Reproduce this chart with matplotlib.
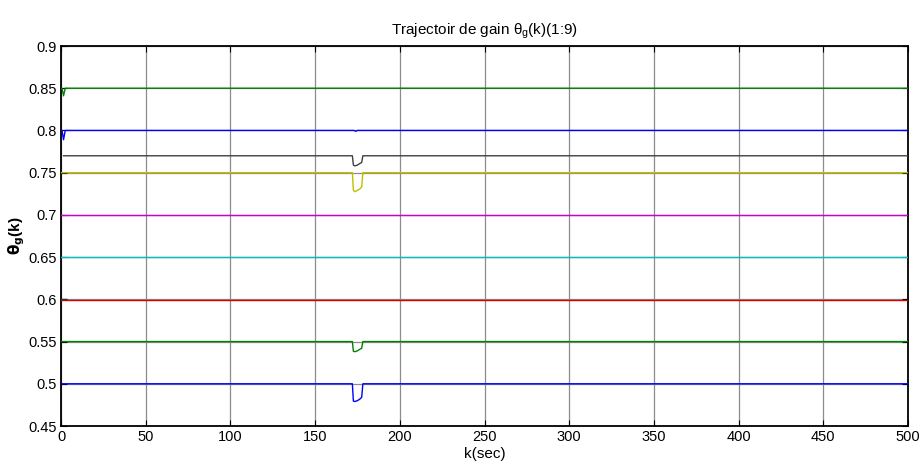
import matplotlib
matplotlib.use("Agg")
import matplotlib.pyplot as plt
from matplotlib import font_manager

# Narrow Arial-like face if available
names = {f.name for f in font_manager.fontManager.ttflist}
family = [n for n in ["Liberation Sans Narrow", "Liberation Sans", "DejaVu Sans"] if n in names]
plt.rcParams["font.family"] = family
plt.rcParams["mathtext.fontset"] = "custom"
plt.rcParams["mathtext.rm"] = family[0]
plt.rcParams["mathtext.it"] = family[0]

# Gain trajectories: knot times and values for each of the 9 components
k_dip = [0, 172, 172.6, 173.5, 175, 176.5, 177.5, 178.2, 500]

theta1_k = [0, 0.6, 1.5, 2.5, 500]
theta1 = [0.850, 0.850, 0.841, 0.850, 0.850]
theta2_k = [0, 0.6, 1.5, 2.5, 173, 174, 175, 500]
theta2 = [0.800, 0.800, 0.789, 0.800, 0.800, 0.799, 0.800, 0.800]
theta3_k = [1.5] + k_dip[1:]
theta3 = [0.770, 0.770, 0.759, 0.758, 0.759, 0.761, 0.762, 0.770, 0.770]
theta4_k = k_dip
theta4 = [0.750, 0.750, 0.729, 0.7275, 0.729, 0.731, 0.733, 0.750, 0.750]
theta5_k = [0, 500]
theta5 = [0.700, 0.700]
theta6_k = [0, 500]
theta6 = [0.650, 0.650]
theta7_k = [0, 500]
theta7 = [0.5995, 0.5995]
theta8_k = k_dip
theta8 = [0.550, 0.550, 0.5385, 0.538, 0.539, 0.541, 0.542, 0.550, 0.550]
theta9_k = k_dip
theta9 = [0.500, 0.500, 0.4795, 0.479, 0.480, 0.482, 0.484, 0.500, 0.500]
offset_k = [0, 3]
offset = [0.6008, 0.6008]

x_ticks = [0, 50, 100, 150, 200, 250, 300, 350, 400, 450, 500]
y_ticks = [0.45, 0.5, 0.55, 0.6, 0.65, 0.7, 0.75, 0.8, 0.85, 0.9]
y_ticklabels = ["0.45", "0.5", "0.55", "0.6", "0.65", "0.7", "0.75", "0.8", "0.85", "0.9"]

series = [
    (theta1_k, theta1, (0.0, 0.5, 0.0)),
    (theta2_k, theta2, (0.0, 0.0, 1.0)),
    (theta3_k, theta3, (0.25, 0.25, 0.25)),
    (theta4_k, theta4, (0.75, 0.75, 0.0)),
    (theta5_k, theta5, (0.8, 0.0, 0.8)),
    (theta6_k, theta6, (0.0, 0.75, 0.75)),
    (theta7_k, theta7, (0.85, 0.0, 0.0)),
    (theta8_k, theta8, (0.0, 0.5, 0.0)),
    (theta9_k, theta9, (0.0, 0.0, 1.0)),
]

fig = plt.figure(figsize=(9.21, 4.75), dpi=100)
ax = fig.add_axes([61 / 921, 1 - 426 / 475, 847 / 921, 380 / 475])

for kk, vv, c in series:
    ax.plot(kk, vv, color=c, lw=1.0, zorder=3)
ax.plot(offset_k, offset, color=(0.2, 0.2, 0.2), lw=1.0, zorder=3)

ax.set_xlim(0, 500)
ax.set_ylim(0.45, 0.9)
ax.set_xticks(x_ticks)
ax.set_yticks(y_ticks)
ax.set_yticklabels(y_ticklabels)
ax.grid(True, color=(0.55, 0.55, 0.55), lw=0.9, zorder=0)
ax.tick_params(direction="in", length=4, width=0.8, labelsize=10.5, pad=3,
               top=True, right=True)
for s in ax.spines.values():
    s.set_linewidth(1.3)
    s.set_color("black")

ax.set_title(r"Trajectoir de gain $\theta_{\mathrm{g}}$(k)(1:9)", fontsize=11, pad=8)
ax.set_xlabel("k(sec)", fontsize=11, labelpad=2)
ax.set_ylabel(r"$\mathbf{\theta_g}$(k)", fontsize=11, fontweight="bold", labelpad=1)

fig.savefig("out.png", dpi=100)
